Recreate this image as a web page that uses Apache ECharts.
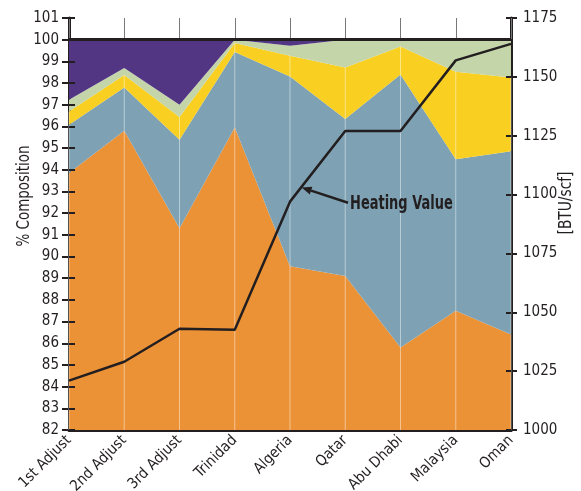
<!DOCTYPE html>
<html>
<head>
<meta charset="utf-8">
<script src="https://cdn.jsdelivr.net/npm/echarts@6/dist/echarts.min.js"></script>
<style>
  html, body { margin: 0; padding: 0; background: #fff; }
  #chart { width: 581px; height: 491px; }
</style>
</head>
<body>
<div id="chart"></div>
<script>
// 数据
const categories = ['1st Adjust', '2nd Adjust', '3rd Adjust', 'Trinidad', 'Algeria', 'Qatar', 'Abu Dhabi', 'Malaysia', 'Oman'];
const orangePart = [93.85, 95.8, 91.3, 95.95, 89.55, 89.1, 85.8, 87.5, 86.4];
const bluePart   = [2.23, 2.0, 4.08, 3.48, 8.75, 7.24, 12.6, 6.99, 8.45];
const yellowPart = [0.61, 0.57, 1.05, 0.42, 0.96, 2.38, 1.29, 4.03, 3.41];
const greenPart  = [0.54, 0.32, 0.57, 0.15, 0.46, 1.28, 0.31, 1.48, 1.74];
const purplePart = [2.77, 1.31, 3.0, 0, 0.28, 0, 0, 0, 0];
const heatingValue = [1021, 1029, 1043, 1042.6, 1097, 1127, 1127, 1157, 1164];

const ink = '#231f20';
const font = '"Liberation Sans Narrow", "DejaVu Sans Condensed", "Liberation Sans", sans-serif';

// 白色竖线只画到黄色层顶部
const lineTops = orangePart.map((v, i) => v + bluePart[i] + yellowPart[i]);

const chart = echarts.init(document.getElementById('chart'));

function areaSeries(name, data, color) {
    return {
        name: name,
        type: 'line',
        stack: 'comp',
        data: data,
        symbol: 'none',
        lineStyle: { width: 0 },
        areaStyle: { color: color, opacity: 1 },
        itemStyle: { color: color },
        z: 2,
        silent: true
    };
}

const purple = areaSeries('purple', purplePart, '#523684');
purple.markLine = {
    silent: true,
    symbol: 'none',
    label: { show: false },
    lineStyle: { color: ink, width: 3, type: 'solid' },
    data: [{ yAxis: 100 }]
};

const option = {
    animation: false,
    backgroundColor: '#fff',
    textStyle: { fontFamily: font },
    grid: { left: 69, right: 70, top: 18, bottom: 61, containLabel: false, outerBoundsMode: 'none' },
    xAxis: [{
        type: 'category',
        data: categories,
        boundaryGap: false,
        axisLine: { lineStyle: { color: ink, width: 3 } },
        axisTick: { show: false },
        axisLabel: { rotate: 45, color: ink, fontSize: 15, fontFamily: font, margin: 8, interval: 0 },
        splitLine: { show: false }
    }, {
        type: 'category',
        data: categories,
        position: 'top',
        boundaryGap: false,
        axisLine: { show: false },
        axisTick: { show: true, inside: true, length: 21, interval: 0, lineStyle: { color: '#777', width: 1 } },
        axisLabel: { show: false }
    }],
    yAxis: [{
        type: 'value',
        min: 82, max: 101, interval: 1,
        position: 'left',
        axisLine: { show: true, lineStyle: { color: ink, width: 3 } },
        axisTick: { show: true, length: 7, lineStyle: { color: ink, width: 2 } },
        axisLabel: { color: ink, fontSize: 15, fontFamily: font, margin: 10 },
        splitLine: { show: false }
    }, {
        type: 'value',
        min: 1000, max: 1175, interval: 25,
        position: 'right',
        axisLine: { show: true, lineStyle: { color: ink, width: 3 } },
        axisTick: { show: true, length: 6, lineStyle: { color: ink, width: 2 } },
        axisLabel: { color: ink, fontSize: 15, fontFamily: font, margin: 12, formatter: v => String(v) },
        splitLine: { show: false }
    }, {
        // 左轴内侧刻度
        type: 'value',
        min: 82, max: 101, interval: 1,
        position: 'left',
        axisLine: { show: false },
        axisTick: { show: true, inside: true, length: 6, lineStyle: { color: ink, width: 2 } },
        axisLabel: { show: false },
        splitLine: { show: false },
        z: 5
    }, {
        // 右轴内侧刻度
        type: 'value',
        min: 1000, max: 1175, interval: 25,
        position: 'right',
        axisLine: { show: false },
        axisTick: { show: true, inside: true, length: 5, lineStyle: { color: ink, width: 2 } },
        axisLabel: { show: false },
        splitLine: { show: false },
        z: 5
    }],
    series: [
        areaSeries('orange', orangePart, '#ec9236'),
        areaSeries('blue', bluePart, '#7ea2b4'),
        areaSeries('yellow', yellowPart, '#f9cf22'),
        areaSeries('green', greenPart, '#c4d5a9'),
        purple,
        {
            name: 'grid',
            type: 'bar',
            data: lineTops,
            barWidth: 1,
            itemStyle: { color: 'rgba(255,255,255,0.45)' },
            silent: true,
            z: 3
        },
        {
            name: 'Heating Value',
            type: 'line',
            yAxisIndex: 1,
            data: heatingValue,
            symbol: 'none',
            lineStyle: { color: ink, width: 2.5 },
            z: 6,
            silent: true
        }
    ]
};

chart.setOption(option);

// 标注与轴标题
function px(idx, val) {
    return chart.convertToPixel({ xAxisIndex: 0, yAxisIndex: 1 }, [idx, val]);
}
const a4 = px(4, 1103), a5 = px(5, 1103);
const tip = [a4[0] + (a5[0] - a4[0]) * 0.21, a4[1]];
const b5 = px(5, 1096.5), b6 = px(6, 1096.5);
const tail = [b5[0] + (b6[0] - b5[0]) * 0.05, b5[1]];
const dx = tip[0] - tail[0], dy = tip[1] - tail[1];
const len = Math.sqrt(dx * dx + dy * dy);
const ux = dx / len, uy = dy / len;
const headLen = 10, headW = 4;
const base = [tip[0] - ux * headLen, tip[1] - uy * headLen];

chart.setOption({
    graphic: [
        {
            type: 'line',
            shape: { x1: tail[0], y1: tail[1], x2: base[0], y2: base[1] },
            style: { stroke: ink, lineWidth: 2.5 },
            z: 20
        },
        {
            type: 'polygon',
            shape: { points: [tip, [base[0] - uy * headW, base[1] + ux * headW], [base[0] + uy * headW, base[1] - ux * headW]] },
            style: { fill: ink },
            z: 20
        },
        {
            type: 'text',
            x: tail[0] + 2, y: tail[1] + 1,
            scaleX: 0.76,
            style: { text: 'Heating Value', fill: ink, font: 'bold 19px ' + font, textAlign: 'left', textVerticalAlign: 'middle' },
            z: 20
        },
        {
            type: 'text',
            x: 25, y: 196,
            rotation: Math.PI / 2,
            scaleX: 0.88,
            style: { text: '% Composition', fill: ink, font: '17px ' + font, textAlign: 'center', textVerticalAlign: 'middle' },
            z: 20
        },
        {
            type: 'text',
            x: 567, y: 203,
            rotation: Math.PI / 2,
            scaleX: 0.9,
            style: { text: '[BTU/scf]', fill: ink, font: '17px ' + font, textAlign: 'center', textVerticalAlign: 'middle' },
            z: 20
        }
    ]
});
</script>
</body>
</html>
